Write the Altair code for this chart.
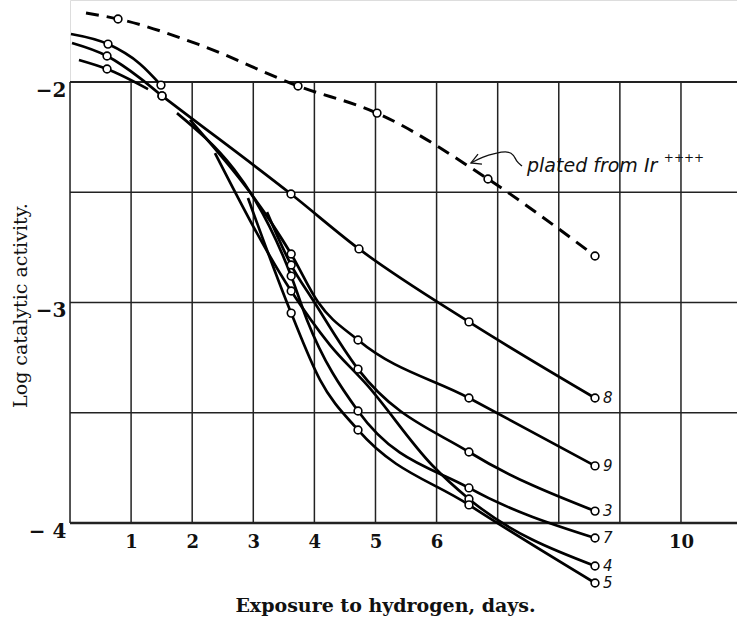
import altair as alt
import pandas as pd

# ---- data (days, log activity) ----
c8_x = [1.506, 1.964, 3.617, 4.730, 6.530, 8.593]
c8_y = [-2.063, -2.159, -2.508, -2.757, -3.088, -3.433]
c8_m = [1, 0, 1, 1, 1, 1]

c9_x = [1.964, 3.62, 4.059, 4.714, 6.530, 8.593]
c9_y = [-2.172, -2.780, -2.998, -3.170, -3.433, -3.741]
c9_m = [0, 1, 0, 1, 1, 1]

c3_x = [3.224, 3.62, 3.977, 4.714, 6.530, 8.593]
c3_y = [-2.590, -2.830, -2.989, -3.302, -3.678, -3.946]
c3_m = [0, 1, 0, 1, 1, 1]

c7_x = [1.751, 3.62, 3.879, 4.714, 6.530, 8.593]
c7_y = [-2.141, -2.880, -3.079, -3.492, -3.841, -4.068]
c7_m = [0, 1, 0, 1, 1, 1]

c4_x = [2.373, 3.62, 4.256, 4.861, 5.925, 6.530, 8.593]
c4_y = [-2.322, -2.948, -3.193, -3.374, -3.737, -3.891, -4.195]
c4_m = [0, 1, 0, 0, 0, 1, 1]

c5_x = [2.913, 3.62, 4.092, 4.714, 6.530, 8.593]
c5_y = [-2.526, -3.048, -3.351, -3.578, -3.918, -4.272]
c5_m = [0, 1, 0, 1, 1, 1]

t1_x = [0.016, 0.622, 1.146, 1.489]
t1_y = [-1.782, -1.828, -1.918, -2.014]
t1_m = [0, 1, 0, 1]

t2_x = [0.033, 0.606, 1.146, 1.506]
t2_y = [-1.823, -1.882, -1.982, -2.063]
t2_m = [0, 1, 0, 1]

t3_x = [0.147, 0.606, 1.277]
t3_y = [-1.900, -1.941, -2.032]
t3_m = [0, 1, 0]

ir_x = [0.262, 0.786, 2.128, 3.732, 5.025, 6.841, 8.593]
ir_y = [-1.687, -1.714, -1.832, -2.018, -2.141, -2.440, -2.789]
ir_m = [0, 1, 0, 1, 1, 1, 1]

curve_names = ["8", "9", "3", "7", "4", "5"]

grid_days = [0, 1, 2, 3, 4, 5, 6, 7, 8, 9, 10, 11]
grid_logs = [-2.0, -2.5, -3.0, -3.5, -4.0]
x_tick_values = [1, 2, 3, 4, 5, 6, 10]
y_tick_values = [-2, -3, -4]

note_text = "plated from Ir"
note_sup = "++++"
note_pos = (7.48, -2.381)
sup_pos = (9.72, -2.345)
arrow_x = [6.563, 6.743, 6.972, 7.169, 7.267, 7.300, 7.398]
arrow_y = [-2.367, -2.340, -2.322, -2.313, -2.331, -2.358, -2.381]
barb_x = [6.678, 6.563, 6.743]
barb_y = [-2.327, -2.367, -2.372]

# ---- tables ----
solid = [("8", c8_x, c8_y, c8_m), ("9", c9_x, c9_y, c9_m), ("3", c3_x, c3_y, c3_m),
         ("7", c7_x, c7_y, c7_m), ("4", c4_x, c4_y, c4_m), ("5", c5_x, c5_y, c5_m),
         ("t1", t1_x, t1_y, t1_m), ("t2", t2_x, t2_y, t2_m), ("t3", t3_x, t3_y, t3_m)]
rows = []
for name, xs_, ys_, ms_ in solid:
    for i, (x, y, m) in enumerate(zip(xs_, ys_, ms_)):
        rows.append({"s": name, "o": i, "x": x, "y": y, "m": m})
df = pd.DataFrame(rows)
dfir = pd.DataFrame({"s": "ir", "o": range(len(ir_x)), "x": ir_x, "y": ir_y, "m": ir_m})
pts = pd.concat([df, dfir])
pts = pts[pts["m"] == 1]

ends = df[df["s"].isin(curve_names)].groupby("s").tail(1)

vgrid = pd.DataFrame({"x": grid_days, "y1": -4.0, "y2": -2.0})
hgrid = pd.DataFrame({"y": grid_logs, "x1": 0.0, "x2": 10.917,
                      "w": [2.0, 1.4, 1.6, 1.4, 2.6]})

XMAX = 10.917
YMAX = -1.628
xs = alt.Scale(domain=[0, XMAX], nice=False, zero=False)
ys = alt.Scale(domain=[-4, YMAX], nice=False, zero=False)

serif = "DejaVu Serif"
xaxis = alt.Axis(values=x_tick_values, domain=False, ticks=False, grid=False,
                 labelFont=serif, labelFontSize=18, labelFontWeight="bold",
                 labelColor="#111", labelPadding=10, labelBaseline="top",
                 title="Exposure to hydrogen, days.", titleFont=serif,
                 titleFontSize=19, titleFontWeight="bold", titleColor="#111",
                 titleX=315, titleY=82, titleBaseline="middle", titleAlign="center")
yaxis = alt.Axis(values=y_tick_values, domain=False, ticks=False, grid=False,
                 labelExpr="datum.value == -4 ? '\u2212 4' : '\u2212' + format(-datum.value, 'd')",
                 labelFont=serif, labelFontSize=20, labelFontWeight="bold",
                 labelColor="#111", labelPadding=4, labelBaseline="top", labelOffset=-2,
                 title="Log catalytic activity.", titleFont=serif, titleFontSize=19,
                 titleFontWeight="normal", titleColor="#111", titleAngle=270,
                 titleX=-50, titleY=305, titleAlign="center", titleBaseline="middle")

X = lambda f="x": alt.X(f"{f}:Q", scale=xs, axis=xaxis)
Y = lambda f="y": alt.Y(f"{f}:Q", scale=ys, axis=yaxis)

vg = alt.Chart(vgrid).mark_rule(color="#222", strokeWidth=1.5).encode(
    x=X(), y=Y("y1"), y2="y2")
hg = alt.Chart(hgrid).mark_rule(color="#222").encode(
    y=Y(), x=X("x1"), x2="x2", strokeWidth=alt.StrokeWidth("w:Q", scale=None, legend=None))

lines = alt.Chart(df).mark_line(color="black", strokeWidth=2.7, interpolate="monotone").encode(
    x=X(), y=Y(), detail="s:N", order="o:Q")
dashed = alt.Chart(dfir).mark_line(color="black", strokeWidth=3, strokeDash=[13, 8],
                                   interpolate="monotone").encode(x=X(), y=Y(), order="o:Q")
circles = alt.Chart(pts).mark_point(shape="circle", filled=True, fill="white",
                                    stroke="black", strokeWidth=1.6, size=60, opacity=1).encode(
    x=X(), y=Y())
labels = alt.Chart(ends).mark_text(align="left", baseline="middle", dx=8, font="DejaVu Sans",
                                   fontStyle="italic", fontSize=15, color="#111").encode(
    x=X(), y=Y(), text="s:N")

note = alt.Chart(pd.DataFrame({"x": [note_pos[0]], "y": [note_pos[1]], "t": [note_text]})).mark_text(
    align="left", baseline="middle", font="DejaVu Sans", fontStyle="italic", fontSize=19,
    color="#111").encode(x=X(), y=Y(), text="t:N")
sup = alt.Chart(pd.DataFrame({"x": [sup_pos[0]], "y": [sup_pos[1]], "t": [note_sup]})).mark_text(
    align="left", baseline="middle", font="DejaVu Sans", fontSize=12, color="#111").encode(
    x=X(), y=Y(), text="t:N")
arrow = alt.Chart(pd.DataFrame({"x": arrow_x, "y": arrow_y, "o": range(len(arrow_x))})).mark_line(
    color="#111", strokeWidth=1.3, interpolate="basis").encode(x=X(), y=Y(), order="o:Q")
barb = alt.Chart(pd.DataFrame({"x": barb_x, "y": barb_y, "o": range(len(barb_x))})).mark_line(
    color="#111", strokeWidth=1.3).encode(x=X(), y=Y(), order="o:Q")

chart = alt.layer(vg, hg, dashed, lines, circles, labels, note, sup, arrow, barb).properties(
    width=667, height=523,
    autosize=alt.AutoSizeParams(type="none"),
    padding={"left": 70, "top": 0, "right": 0, "bottom": 100},
).configure_view(stroke=None).configure(background="white")

chart.save("out.html", embed_options={"renderer": "svg", "actions": False})
